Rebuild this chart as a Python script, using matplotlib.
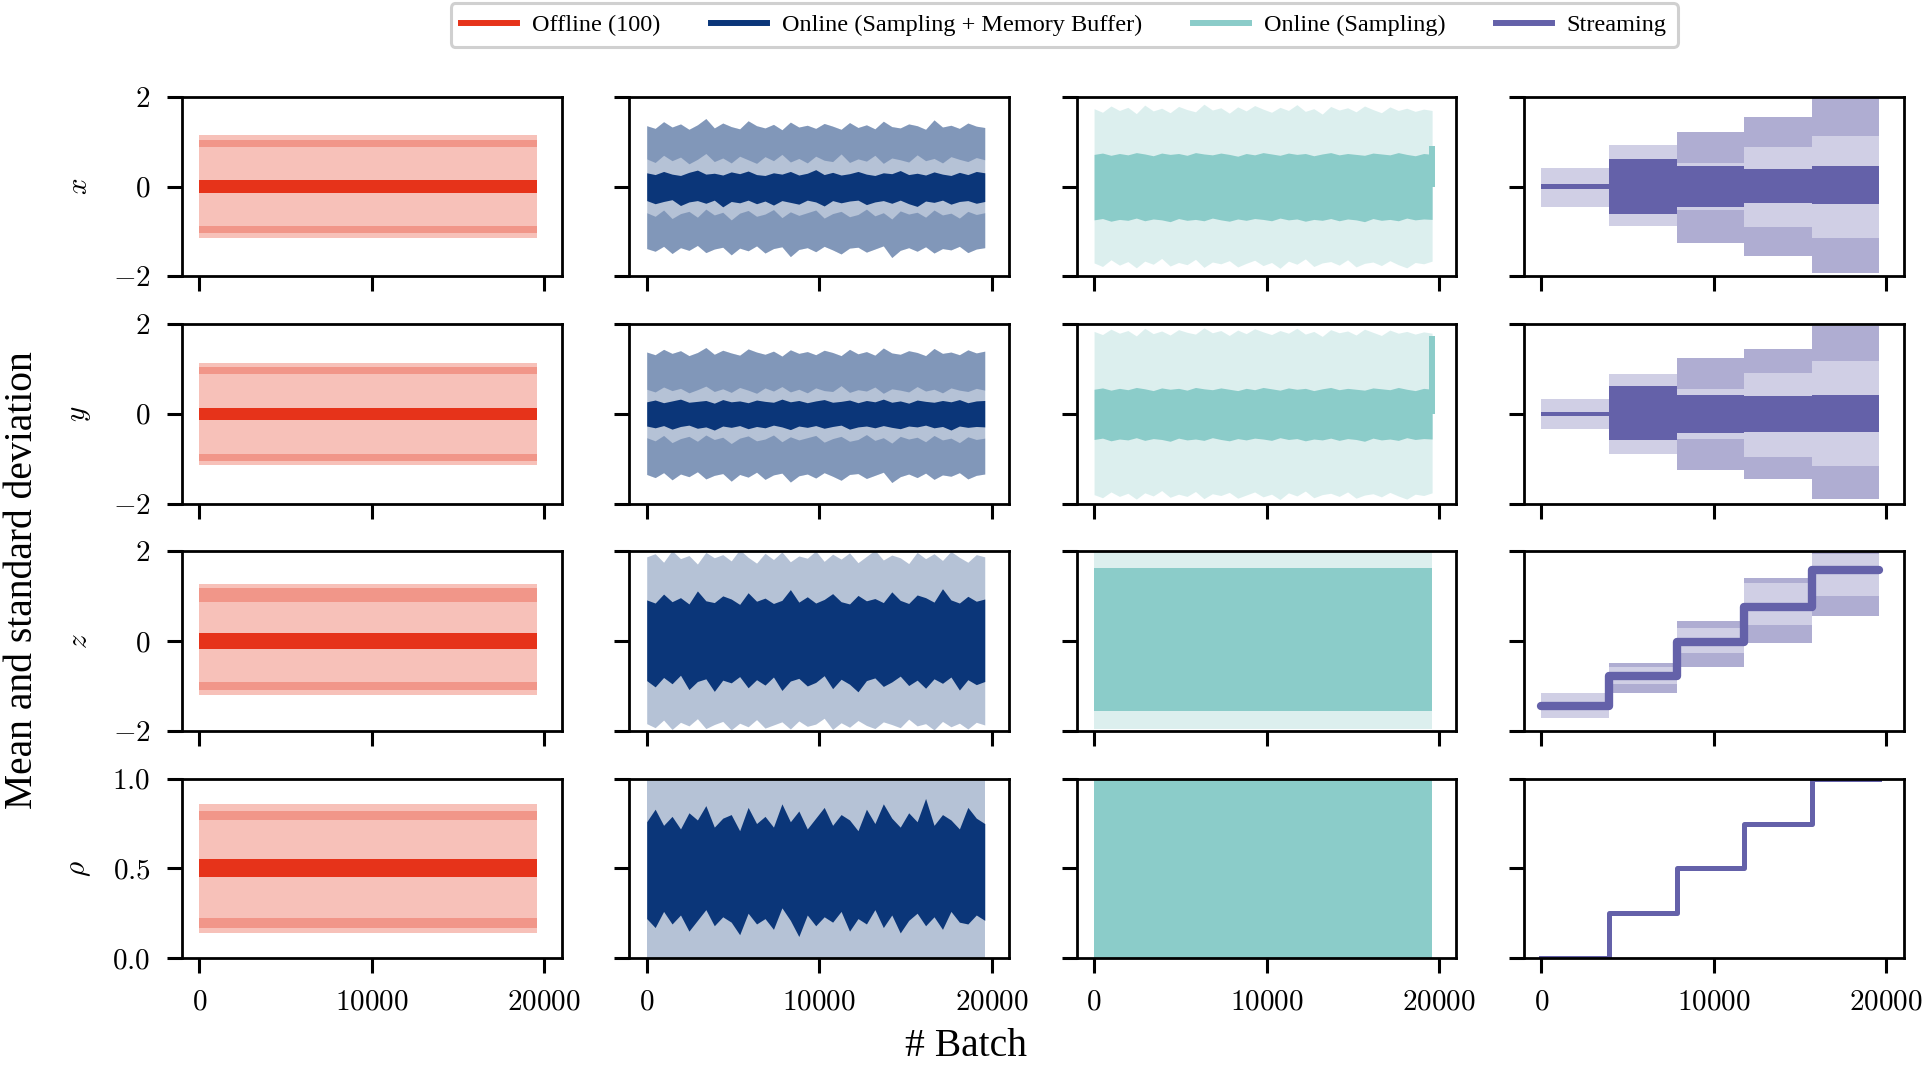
import matplotlib
matplotlib.use("Agg")
import matplotlib.pyplot as plt
from matplotlib.lines import Line2D
from matplotlib.ticker import FuncFormatter

plt.rcParams['font.family'] = ['Liberation Serif', 'DejaVu Serif']
plt.rcParams['mathtext.fontset'] = 'cm'

methods = ["Offline (100)", "Online (Sampling + Memory Buffer)",
           "Online (Sampling)", "Streaming"]
colors = ["#e6331a", "#0b3679", "#8bccc9", "#6461a9"]
params = ["$x$", "$y$", "$z$", r"$\rho$"]

batch = list(range(0, 19601, 490))
batch_end = 19600
phase_edges = [0, 3920, 7840, 11760, 15680, 19600]

# ---- Offline (100): flat bands, one value per row (x, y, z, rho)
off_mean_lo = [-0.14, -0.13, -0.18, 0.45]
off_mean_hi = [0.14, 0.13, 0.18, 0.55]
off_up_lo = [0.88, 0.90, 0.88, 0.77]
off_up_hi = [1.05, 1.05, 1.18, 0.82]
off_dn_lo = [-1.04, -1.05, -1.10, 0.17]
off_dn_hi = [-0.87, -0.90, -0.92, 0.225]
off_out_lo = [-1.15, -1.13, -1.21, 0.14]
off_out_hi = [1.15, 1.13, 1.27, 0.86]

# ---- Online (Sampling + Memory Buffer)
mb_x_mean_hi = [0.31, 0.27, 0.34, 0.28, 0.25, 0.32, 0.37, 0.28, 0.30, 0.26,
                0.33, 0.29, 0.35, 0.27, 0.25, 0.31, 0.28, 0.34, 0.26, 0.30,
                0.38, 0.27, 0.32, 0.26, 0.29, 0.34, 0.28, 0.25, 0.31, 0.29,
                0.36, 0.27, 0.30, 0.26, 0.33, 0.28, 0.25, 0.32, 0.27, 0.34,
                0.31]
mb_x_mean_lo = [-0.31, -0.38, -0.33, -0.29, -0.42, -0.34, -0.31, -0.37, -0.30, -0.45,
                -0.33, -0.36, -0.30, -0.38, -0.32, -0.41, -0.31, -0.35, -0.39, -0.30,
                -0.34, -0.43, -0.31, -0.36, -0.32, -0.30, -0.40, -0.34, -0.31, -0.37,
                -0.30, -0.38, -0.44, -0.32, -0.35, -0.30, -0.39, -0.33, -0.31, -0.37,
                -0.33]
mb_x_in_hi = [0.62, 0.54, 0.70, 0.58, 0.66, 0.51, 0.61, 0.74, 0.56, 0.64,
              0.53, 0.68, 0.60, 0.52, 0.67, 0.58, 0.72, 0.55, 0.63, 0.53,
              0.68, 0.59, 0.56, 0.73, 0.54, 0.62, 0.57, 0.70, 0.52, 0.64,
              0.60, 0.55, 0.71, 0.58, 0.63, 0.53, 0.67, 0.61, 0.56, 0.65,
              0.60]
mb_x_out_hi = [1.36, 1.30, 1.45, 1.33, 1.40, 1.28, 1.38, 1.52, 1.31, 1.42,
               1.34, 1.29, 1.47, 1.36, 1.31, 1.39, 1.27, 1.44, 1.33, 1.37,
               1.30, 1.41, 1.35, 1.28, 1.43, 1.32, 1.38, 1.29, 1.46, 1.34,
               1.31, 1.40, 1.36, 1.28, 1.49, 1.33, 1.37, 1.30, 1.42, 1.35,
               1.32]
mb_x_in_lo = [-0.58, -0.66, -0.52, -0.71, -0.60, -0.55, -0.68, -0.50, -0.63, -0.57,
              -0.74, -0.59, -0.53, -0.66, -0.61, -0.51, -0.69, -0.56, -0.64, -0.58,
              -0.52, -0.70, -0.60, -0.55, -0.67, -0.62, -0.50, -0.65, -0.58, -0.72,
              -0.54, -0.61, -0.57, -0.68, -0.52, -0.63, -0.59, -0.70, -0.55, -0.62,
              -0.58]
mb_x_out_lo = [-1.38, -1.44, -1.33, -1.49, -1.36, -1.42, -1.31, -1.47, -1.39, -1.35,
               -1.52, -1.37, -1.43, -1.32, -1.48, -1.38, -1.34, -1.56, -1.40, -1.36,
               -1.45, -1.33, -1.41, -1.50, -1.37, -1.35, -1.46, -1.39, -1.32, -1.58,
               -1.42, -1.36, -1.44, -1.34, -1.48, -1.38, -1.41, -1.33, -1.47, -1.39,
               -1.36]

mb_y_mean_hi = [0.27, 0.31, 0.25, 0.29, 0.33, 0.26, 0.28, 0.30, 0.24, 0.32,
                0.27, 0.29, 0.25, 0.31, 0.28, 0.26, 0.33, 0.27, 0.30, 0.25,
                0.29, 0.32, 0.26, 0.28, 0.31, 0.25, 0.30, 0.27, 0.33, 0.26,
                0.29, 0.24, 0.31, 0.28, 0.26, 0.30, 0.27, 0.32, 0.25, 0.29,
                0.30]
mb_y_mean_lo = [-0.27, -0.31, -0.26, -0.34, -0.28, -0.25, -0.32, -0.29, -0.36, -0.27,
                -0.30, -0.26, -0.33, -0.28, -0.31, -0.25, -0.29, -0.35, -0.27, -0.30,
                -0.26, -0.32, -0.28, -0.25, -0.34, -0.29, -0.27, -0.31, -0.26, -0.30,
                -0.33, -0.27, -0.29, -0.25, -0.31, -0.28, -0.36, -0.27, -0.30, -0.28,
                -0.29]
mb_y_in_hi = [0.55, 0.49, 0.60, 0.52, 0.57, 0.47, 0.54, 0.62, 0.50, 0.56,
              0.48, 0.59, 0.53, 0.46, 0.58, 0.51, 0.61, 0.49, 0.55, 0.47,
              0.58, 0.52, 0.50, 0.63, 0.48, 0.54, 0.51, 0.60, 0.46, 0.56,
              0.53, 0.49, 0.61, 0.51, 0.55, 0.47, 0.58, 0.53, 0.50, 0.57,
              0.53]
mb_y_out_hi = [1.38, 1.32, 1.44, 1.35, 1.41, 1.30, 1.37, 1.48, 1.33, 1.42,
               1.36, 1.31, 1.45, 1.38, 1.33, 1.40, 1.29, 1.43, 1.35, 1.39,
               1.32, 1.42, 1.37, 1.30, 1.44, 1.34, 1.39, 1.31, 1.47, 1.36,
               1.33, 1.41, 1.37, 1.30, 1.46, 1.35, 1.38, 1.32, 1.43, 1.36,
               1.40]
mb_y_in_lo = [-0.53, -0.60, -0.48, -0.64, -0.55, -0.50, -0.61, -0.47, -0.57, -0.52,
              -0.66, -0.54, -0.49, -0.60, -0.56, -0.47, -0.62, -0.51, -0.58, -0.53,
              -0.48, -0.63, -0.55, -0.50, -0.61, -0.57, -0.46, -0.59, -0.53, -0.65,
              -0.50, -0.56, -0.52, -0.62, -0.48, -0.58, -0.54, -0.64, -0.51, -0.57,
              -0.54]
mb_y_out_lo = [-1.35, -1.42, -1.31, -1.47, -1.34, -1.40, -1.29, -1.45, -1.37, -1.33,
               -1.50, -1.35, -1.41, -1.30, -1.46, -1.36, -1.32, -1.52, -1.38, -1.34,
               -1.43, -1.31, -1.39, -1.48, -1.35, -1.33, -1.44, -1.37, -1.30, -1.53,
               -1.40, -1.34, -1.42, -1.32, -1.46, -1.36, -1.39, -1.31, -1.45, -1.37,
               -1.34]

mb_z_mean_hi = [0.92, 0.85, 1.05, 0.88, 0.97, 0.83, 1.12, 0.90, 0.86, 1.01,
                0.94, 0.82, 1.08, 0.89, 0.96, 0.84, 0.91, 1.15, 0.87, 0.99,
                0.85, 0.93, 1.06, 0.88, 0.83, 1.02, 0.90, 0.95, 0.86, 1.10,
                0.91, 0.84, 1.03, 0.97, 0.87, 1.17, 0.92, 0.85, 1.00, 0.89,
                0.94]
mb_z_mean_lo = [-0.88, -1.02, -0.81, -0.95, -0.76, -1.08, -0.90, -0.84, -1.12, -0.87,
                -0.93, -0.79, -1.04, -0.86, -0.98, -0.80, -1.10, -0.89, -0.83, -1.00,
                -0.92, -0.77, -1.06, -0.85, -0.96, -1.13, -0.88, -0.82, -1.01, -0.91,
                -0.78, -0.99, -0.87, -1.05, -0.84, -0.94, -0.80, -1.09, -0.86, -0.97,
                -0.90]
mb_z_out_hi = [1.88, 1.95, 1.76, 2.02, 1.84, 1.91, 1.72, 1.98, 1.86, 1.93,
               1.79, 2.04, 1.87, 1.74, 1.96, 1.82, 1.99, 1.77, 1.90, 1.85,
               2.01, 1.78, 1.94, 1.83, 1.97, 1.75, 1.89, 2.03, 1.81, 1.92,
               1.86, 1.73, 1.98, 1.84, 1.95, 1.80, 2.00, 1.87, 1.76, 1.93,
               1.88]
mb_z_out_lo = [-1.84, -1.93, -1.76, -1.97, -1.81, -1.89, -1.73, -1.95, -1.86, -1.79,
               -1.98, -1.83, -1.91, -1.75, -1.94, -1.87, -1.80, -1.96, -1.78, -1.90,
               -1.85, -1.72, -1.97, -1.82, -1.92, -1.77, -1.88, -1.95, -1.80, -1.86,
               -1.93, -1.74, -1.89, -1.84, -1.98, -1.79, -1.91, -1.83, -1.96, -1.81,
               -1.87]

mb_rho_mean_hi = [0.76, 0.83, 0.74, 0.79, 0.72, 0.81, 0.77, 0.85, 0.73, 0.78,
                  0.80, 0.71, 0.84, 0.75, 0.79, 0.73, 0.86, 0.76, 0.82, 0.72,
                  0.78, 0.84, 0.74, 0.80, 0.77, 0.71, 0.83, 0.75, 0.86, 0.78,
                  0.73, 0.81, 0.76, 0.89, 0.74, 0.80, 0.77, 0.72, 0.84, 0.78,
                  0.75]
mb_rho_mean_lo = [0.22, 0.17, 0.26, 0.19, 0.24, 0.15, 0.21, 0.27, 0.18, 0.23,
                  0.20, 0.13, 0.25, 0.19, 0.22, 0.16, 0.28, 0.21, 0.12, 0.24,
                  0.18, 0.23, 0.20, 0.26, 0.15, 0.22, 0.19, 0.27, 0.17, 0.24,
                  0.14, 0.21, 0.25, 0.18, 0.23, 0.16, 0.26, 0.20, 0.19, 0.24,
                  0.21]
mb_rho_out = [-0.10, 1.10]

# ---- Online (Sampling)
sm_x_mean_hi = [0.72, 0.75, 0.70, 0.74, 0.71, 0.76, 0.73, 0.69, 0.75, 0.72,
                0.74, 0.70, 0.76, 0.73, 0.71, 0.75, 0.72, 0.68, 0.74, 0.71,
                0.76, 0.73, 0.70, 0.75, 0.72, 0.74, 0.69, 0.73, 0.76, 0.71,
                0.74, 0.72, 0.70, 0.75, 0.73, 0.71, 0.76, 0.72, 0.69, 0.74,
                0.72]
sm_x_mean_lo = [-0.74, -0.71, -0.77, -0.73, -0.75, -0.70, -0.76, -0.72, -0.74, -0.78,
                -0.71, -0.75, -0.73, -0.76, -0.70, -0.74, -0.77, -0.72, -0.75, -0.71,
                -0.73, -0.76, -0.70, -0.74, -0.72, -0.77, -0.73, -0.75, -0.71, -0.76,
                -0.72, -0.74, -0.78, -0.71, -0.75, -0.73, -0.76, -0.70, -0.74, -0.72,
                -0.73]
sm_x_out_hi = [1.74, 1.66, 1.80, 1.70, 1.77, 1.63, 1.82, 1.69, 1.75, 1.65,
               1.79, 1.72, 1.67, 1.84, 1.71, 1.76, 1.64, 1.78, 1.69, 1.81,
               1.73, 1.66, 1.77, 1.70, 1.83, 1.68, 1.74, 1.62, 1.79, 1.71,
               1.76, 1.67, 1.80, 1.72, 1.65, 1.78, 1.70, 1.75, 1.68, 1.73,
               1.70]
sm_x_out_lo = [-1.70, -1.78, -1.63, -1.75, -1.67, -1.81, -1.66, -1.73, -1.60, -1.77,
               -1.69, -1.74, -1.62, -1.80, -1.68, -1.72, -1.65, -1.79, -1.71, -1.64,
               -1.76, -1.69, -1.82, -1.66, -1.73, -1.61, -1.78, -1.70, -1.67, -1.75,
               -1.63, -1.79, -1.71, -1.68, -1.76, -1.65, -1.74, -1.81, -1.69, -1.72,
               -1.66]

sm_y_mean_hi = [0.55, 0.58, 0.53, 0.57, 0.54, 0.59, 0.56, 0.52, 0.58, 0.55,
                0.57, 0.53, 0.59, 0.56, 0.54, 0.58, 0.55, 0.52, 0.57, 0.54,
                0.59, 0.56, 0.53, 0.58, 0.55, 0.57, 0.52, 0.56, 0.59, 0.54,
                0.57, 0.55, 0.53, 0.58, 0.56, 0.54, 0.59, 0.55, 0.52, 0.57,
                0.55]
sm_y_mean_lo = [-0.57, -0.54, -0.60, -0.56, -0.58, -0.53, -0.59, -0.55, -0.57, -0.61,
                -0.54, -0.58, -0.56, -0.59, -0.53, -0.57, -0.60, -0.55, -0.58, -0.54,
                -0.56, -0.59, -0.53, -0.57, -0.55, -0.60, -0.56, -0.58, -0.54, -0.59,
                -0.55, -0.57, -0.61, -0.54, -0.58, -0.56, -0.59, -0.53, -0.57, -0.55,
                -0.56]
sm_y_out_hi = [1.84, 1.77, 1.89, 1.80, 1.86, 1.74, 1.91, 1.79, 1.85, 1.76,
               1.88, 1.82, 1.78, 1.92, 1.81, 1.86, 1.75, 1.87, 1.79, 1.90,
               1.83, 1.77, 1.86, 1.80, 1.91, 1.78, 1.84, 1.73, 1.88, 1.81,
               1.85, 1.76, 1.89, 1.82, 1.75, 1.87, 1.80, 1.84, 1.78, 1.83,
               1.80]
sm_y_out_lo = [-1.80, -1.87, -1.74, -1.84, -1.77, -1.90, -1.76, -1.83, -1.71, -1.86,
               -1.79, -1.84, -1.73, -1.89, -1.78, -1.82, -1.75, -1.88, -1.81, -1.74,
               -1.85, -1.79, -1.91, -1.76, -1.83, -1.72, -1.87, -1.80, -1.77, -1.84,
               -1.74, -1.88, -1.81, -1.78, -1.85, -1.75, -1.83, -1.90, -1.79, -1.82,
               -1.76]
sm_z_mean = [-1.56, 1.64]
sm_z_out = [-1.95, 2.30]
sm_rho_mean = [-0.05, 1.05]
sm_last = [0.90, 1.74]   # final-batch mean of x and y

# ---- Streaming: one value per phase
st_x_mean_lo = [-0.05, -0.60, -0.46, -0.36, -0.39]
st_x_mean_hi = [0.05, 0.62, 0.47, 0.40, 0.47]
st_x_in_lo = [-0.45, -0.87, -0.52, -0.91, -1.14]
st_x_in_hi = [0.42, 0.92, 0.52, 0.88, 1.14]
st_x_out_lo = [-0.45, -0.87, -1.25, -1.55, -1.92]
st_x_out_hi = [0.42, 0.92, 1.22, 1.55, 1.97]

st_y_mean_lo = [-0.05, -0.59, -0.42, -0.40, -0.40]
st_y_mean_hi = [0.05, 0.62, 0.42, 0.40, 0.42]
st_y_in_lo = [-0.33, -0.90, -0.55, -0.95, -1.17]
st_y_in_hi = [0.33, 0.90, 0.55, 0.92, 1.17]
st_y_out_lo = [-0.33, -0.90, -1.25, -1.45, -1.90]
st_y_out_hi = [0.33, 0.90, 1.25, 1.45, 1.95]

st_z_mean = [-1.44, -0.77, -0.01, 0.77, 1.58]
st_z_out_lo = [-1.72, -1.16, -0.57, -0.04, 0.55]
st_z_out_hi = [-1.16, -0.49, 0.45, 1.41, 2.10]
st_z_dn_hi = [-1.72, -0.95, -0.27, 0.36, 1.00]
st_z_up_lo = [-1.16, -0.58, 0.30, 1.29, 1.95]

st_rho_mean = [0.0, 0.25, 0.5, 0.75, 1.0]


def band(ax, x, lo, hi, color, alpha):
    ax.fill_between(x, lo, hi, color=color, alpha=alpha, lw=0)


fig, axes = plt.subplots(4, 4, figsize=(19.33, 10.72), dpi=100,
                         sharex=True, sharey='row')
fig.subplots_adjust(left=0.0942, right=0.9848, top=0.9095, bottom=0.1063,
                    wspace=0.179, hspace=0.267)
ends = [0, batch_end]
red, blue, teal, purple = colors

# offline
for r in range(4):
    ax = axes[r, 0]
    band(ax, ends, off_out_lo[r], off_out_hi[r], red, 0.3)
    band(ax, ends, off_up_lo[r], off_up_hi[r], red, 0.3)
    band(ax, ends, off_dn_lo[r], off_dn_hi[r], red, 0.3)
    band(ax, ends, off_mean_lo[r], off_mean_hi[r], red, 1.0)

# online, sampling + memory buffer
mb = [(mb_x_mean_lo, mb_x_mean_hi, mb_x_in_lo, mb_x_in_hi, mb_x_out_lo, mb_x_out_hi),
      (mb_y_mean_lo, mb_y_mean_hi, mb_y_in_lo, mb_y_in_hi, mb_y_out_lo, mb_y_out_hi)]
for r, (mlo, mhi, ilo, ihi, olo, ohi) in enumerate(mb):
    ax = axes[r, 1]
    band(ax, batch, olo, ohi, blue, 0.3)
    band(ax, batch, ihi, ohi, blue, 0.3)
    band(ax, batch, olo, ilo, blue, 0.3)
    band(ax, batch, mlo, mhi, blue, 1.0)
band(axes[2, 1], batch, mb_z_out_lo, mb_z_out_hi, blue, 0.3)
band(axes[2, 1], batch, mb_z_mean_lo, mb_z_mean_hi, blue, 1.0)
band(axes[3, 1], ends, mb_rho_out[0], mb_rho_out[1], blue, 0.3)
band(axes[3, 1], batch, mb_rho_mean_lo, mb_rho_mean_hi, blue, 1.0)

# online, sampling
sm = [(sm_x_mean_lo, sm_x_mean_hi, sm_x_out_lo, sm_x_out_hi),
      (sm_y_mean_lo, sm_y_mean_hi, sm_y_out_lo, sm_y_out_hi)]
for r, (mlo, mhi, olo, ohi) in enumerate(sm):
    ax = axes[r, 2]
    band(ax, batch, olo, ohi, teal, 0.3)
    band(ax, batch, mlo, mhi, teal, 1.0)
    ax.plot([batch_end, batch_end], [0, sm_last[r]], color=teal, lw=4.3,
            solid_capstyle='butt')
band(axes[2, 2], ends, sm_z_out[0], sm_z_out[1], teal, 0.3)
band(axes[2, 2], ends, sm_z_mean[0], sm_z_mean[1], teal, 1.0)
band(axes[3, 2], ends, sm_rho_mean[0], sm_rho_mean[1], teal, 1.0)

# streaming
st = [(st_x_mean_lo, st_x_mean_hi, st_x_in_lo, st_x_in_hi, st_x_out_lo, st_x_out_hi),
      (st_y_mean_lo, st_y_mean_hi, st_y_in_lo, st_y_in_hi, st_y_out_lo, st_y_out_hi)]
for r, (mlo, mhi, ilo, ihi, olo, ohi) in enumerate(st):
    ax = axes[r, 3]
    for i in range(5):
        seg = phase_edges[i:i + 2]
        band(ax, seg, olo[i], ohi[i], purple, 0.3)
        band(ax, seg, ihi[i], ohi[i], purple, 0.3)
        band(ax, seg, olo[i], ilo[i], purple, 0.3)
        band(ax, seg, mlo[i], mhi[i], purple, 1.0)
ax = axes[2, 3]
for i in range(5):
    seg = phase_edges[i:i + 2]
    band(ax, seg, st_z_out_lo[i], st_z_out_hi[i], purple, 0.3)
    band(ax, seg, st_z_up_lo[i], st_z_out_hi[i], purple, 0.3)
    band(ax, seg, st_z_out_lo[i], st_z_dn_hi[i], purple, 0.3)
ax.plot(phase_edges, st_z_mean + st_z_mean[-1:], drawstyle='steps-post',
        color=purple, lw=6, solid_capstyle='round')
axes[3, 3].plot(phase_edges, st_rho_mean + st_rho_mean[-1:],
                drawstyle='steps-post', color=purple, lw=3.6)

int_fmt = FuncFormatter(lambda v, p: f"${v:g}$")
rho_fmt = FuncFormatter(lambda v, p: f"${v:.1f}$")
for r in range(4):
    for c in range(4):
        ax = axes[r, c]
        ax.set_xlim(-1000, 21000)
        ax.set_xticks([0, 10000, 20000])
        ax.xaxis.set_major_formatter(int_fmt)
        if r < 3:
            ax.set_ylim(-2, 2)
            ax.set_yticks([-2, 0, 2])
            ax.yaxis.set_major_formatter(int_fmt)
        else:
            ax.set_ylim(0, 1)
            ax.set_yticks([0, 0.5, 1.0])
            ax.yaxis.set_major_formatter(rho_fmt)
        for s in ax.spines.values():
            s.set_linewidth(2.0)
        ax.tick_params(direction='out', length=10.8, width=2.2, pad=12,
                       labelsize=21)
    axes[r, 0].set_ylabel(params[r], fontsize=21)
    axes[r, 0].yaxis.set_label_coords(-0.235, 0.5)

handles = [Line2D([], [], color=c, lw=4.3) for c in colors]
leg = fig.legend(handles, methods, loc='upper center', ncol=4,
                 bbox_to_anchor=(0.5505, 0.997), borderaxespad=0,
                 fontsize=17.5, handlelength=2.3, handletextpad=0.6,
                 columnspacing=2.1, borderpad=0.45, fancybox=True,
                 framealpha=1, edgecolor='#d0d0d0')
leg.get_frame().set_linewidth(2.2)

fig.text(0.0114, 0.459, "Mean and standard deviation", rotation=90,
         fontsize=28.5, ha='center', va='center')
fig.text(0.5, 0.024, "# Batch", fontsize=28.5, ha='center', va='center')

fig.savefig("out.png", dpi=100)
